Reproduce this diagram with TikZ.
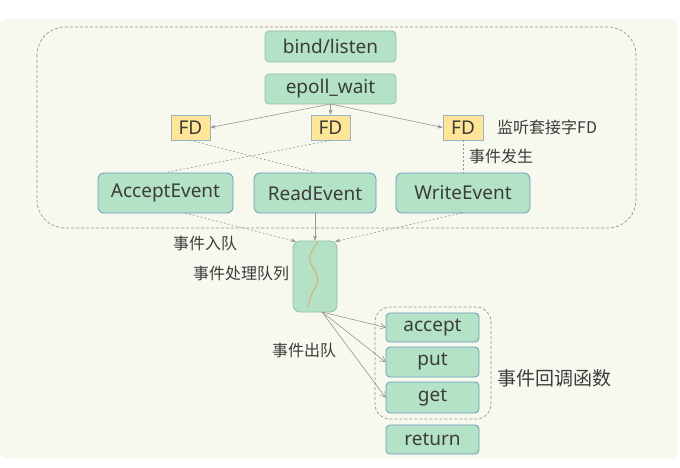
\documentclass[tikz,border=0pt]{standalone}
\usepackage{fontspec}
\setmainfont{Noto Sans}
\newfontfamily\cjk{Noto Sans CJK SC}
\usetikzlibrary{arrows.meta}
\definecolor{bgc}{RGB}{247,248,238}
\definecolor{gfill}{RGB}{179,226,198}
\definecolor{gbord}{RGB}{150,190,165}
\definecolor{bbord}{RGB}{105,155,190}
\definecolor{yfill}{RGB}{254,230,150}
\definecolor{ybord}{RGB}{155,180,200}
\definecolor{txt}{RGB}{60,60,60}
\definecolor{lnc}{RGB}{150,150,150}
\definecolor{wave}{RGB}{232,160,96}
\tikzset{
  gbox/.style={draw=gbord, fill=gfill, rounded corners=4pt, line width=0.8pt, inner sep=0pt, text=txt, font=\fontsize{19}{21}\selectfont},
  ebox/.style={draw=bbord, fill=gfill, rounded corners=6pt, line width=0.8pt, inner sep=0pt, text=txt, font=\fontsize{19}{21}\selectfont},
  cbox/.style={draw=bbord, fill=gfill, rounded corners=4pt, line width=0.8pt, inner sep=0pt, text=txt, font=\fontsize{19}{21}\selectfont},
  fdbox/.style={draw=ybord, fill=yfill, line width=0.8pt, inner sep=0pt, text=txt, font=\fontsize{19}{21}\selectfont, minimum width=39pt, minimum height=25pt},
  lbl/.style={anchor=west, inner sep=0pt, text=txt, font=\cjk\fontsize{16}{18}\selectfont},
  arr/.style={draw=lnc, line width=0.6pt, -{Stealth[length=5pt,width=4pt]}},
  darr/.style={draw=lnc, line width=0.6pt, dash pattern=on 2pt off 2pt, -{Stealth[length=5pt,width=4pt]}},
  dln/.style={draw=lnc, line width=0.6pt, dash pattern=on 2pt off 2pt},
  oarr/.style={draw=lnc!90!black, line width=0.5pt, -{Straight Barb[length=5pt,width=6pt]}},
  frame/.style={draw=lnc, line width=0.7pt, dash pattern=on 3pt off 2pt}
}
\begin{document}
\begin{tikzpicture}[x=1pt,y=-1pt]
\useasboundingbox (0,0) rectangle (680,468);
\fill[white] (0,0) rectangle (680,468);
\fill[bgc, rounded corners=6pt] (0,19) rectangle (678,458);
% outer dashed frame
\draw[frame, rounded corners=28pt] (37,27) rectangle (636,228);
% callback dashed frame
\draw[frame, rounded corners=15pt] (375,307) rectangle (491,419);

\node[gbox, minimum width=131pt, minimum height=31pt] (bind) at (330.5,46.5) {bind/listen};
\node[gbox, minimum width=131pt, minimum height=30pt] (epoll) at (330.5,89) {epoll\_wait};

\node[fdbox] (fd1) at (190.5,127.5) {FD};
\node[fdbox] (fd2) at (330.5,127.5) {FD};
\node[fdbox, minimum width=40pt] (fd3) at (463,127.5) {FD};

\node[ebox, minimum width=135pt, minimum height=40pt] (acc) at (165.5,193) {AcceptEvent};
\node[ebox, minimum width=122pt, minimum height=40pt] (rd) at (315,193) {ReadEvent};
\node[ebox, minimum width=134pt, minimum height=40pt] (wr) at (463,193) {WriteEvent};

\node[gbox, rounded corners=7pt, minimum width=44pt, minimum height=71pt] (q) at (315,276.5) {};

\node[cbox, minimum width=93pt, minimum height=29pt] (cacc) at (432.5,327.5) {accept};
\node[cbox, minimum width=93pt, minimum height=30pt] (cput) at (432.5,362) {put};
\node[cbox, minimum width=93pt, minimum height=31pt] (cget) at (432.5,397.5) {get};
\node[cbox, minimum width=93pt, minimum height=29pt] (cret) at (432.5,439.5) {return};

% labels
\node[lbl] (l1) at (497,127.5) {监听套接字FD};
\node[lbl] (l2) at (469,156) {事件发生};
\node[lbl] (l3) at (173,243) {事件入队};
\node[lbl] (l4) at (193,273) {事件处理队列};
\node[lbl] (l5) at (272,350) {事件出队};
\node[lbl, font=\cjk\fontsize{19}{21}\selectfont] (l6) at (497,378) {事件回调函数};

% epoll -> FDs
\coordinate (es) at (330.5,104);
\draw[arr] (es) -- (fd1.east);
\draw[arr] (es) -- (fd2.north);
\draw[arr] (es) -- (fd3.west);

% FD -> events
\draw[dln] (fd1.south) -- (rd.north);
\draw[dln] (fd2.south) -- (acc.north);
\draw[dln] (fd3.south) -- (wr.north);

% events -> queue
\coordinate (as) at (185,213);
\coordinate (ws) at (462,213);
\coordinate (qa) at (296,241.5);
\coordinate (qw) at (335,241.5);
\draw[darr] (as) -- (qa);
\draw[arr] (rd.south) -- (q.north);
\draw[darr] (ws) -- (qw);

% wave inside queue
\draw[wave, line width=0.8pt] plot[smooth, tension=0.7] coordinates {(318,242) (312,251) (310,261) (316,273) (317,283) (311,296) (308,307)};

% queue -> callbacks
\coordinate (qs) at (322,312);
\draw[oarr] (qs) -- (cacc.west);
\draw[oarr] (qs) -- (cput.west);
\draw[oarr] (qs) -- (cget.west);
\end{tikzpicture}
\end{document}
